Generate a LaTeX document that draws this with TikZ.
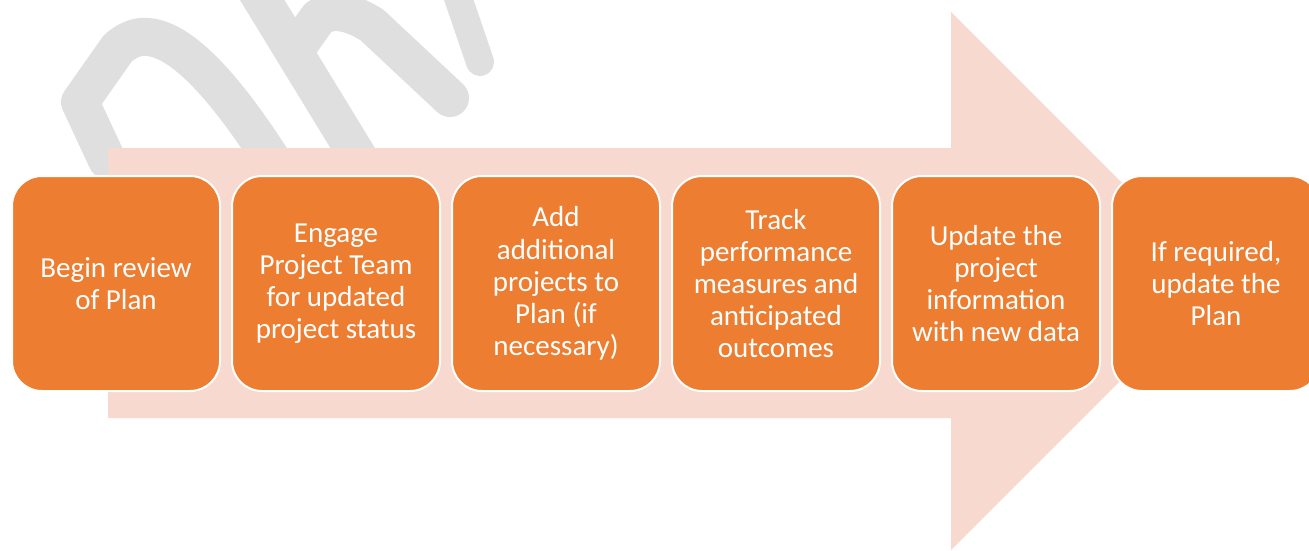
\documentclass[tikz,border=0pt]{standalone}
\usepackage{fontspec}
\setmainfont{Carlito}
\definecolor{stageorange}{HTML}{ED7D31}
\definecolor{arrowpink}{HTML}{F8D9CF}
\definecolor{wmgrey}{HTML}{DFDFDF}
\tikzset{
  stage/.style={draw=white,line width=2pt,fill=stageorange,rounded corners=30pt,
    minimum width=208pt,minimum height=215pt,inner sep=0pt,align=center,
    text=white,font=\fontsize{29}{32.2}\selectfont},
  wmstroke/.style={draw=wmgrey,line width=38pt,line join=round,line cap=round},
}
\begin{document}
\begin{tikzpicture}[x=1pt,y=-1pt]
\useasboundingbox (0,0) rectangle (1309,550);
% watermark behind the arrow
\begin{scope}
\clip (0,0) rectangle (1309,550);
\draw[wmstroke] (107,160) -- (80,102) -- (118,48) .. controls (130,38) and (140,36) .. (148,37)
  .. controls (185,40) and (230,95) .. (272,160);
\draw[wmstroke,line cap=butt] (250,-20) -- (360,160);
\draw[wmstroke] (298,46) -- (318,18) .. controls (328,10) and (345,8) .. (372,25) -- (450,98);
\draw[wmstroke,line width=28pt] (452,-20) -- (480,62);
\end{scope}
% big arrow
\fill[arrowpink] (108,148) -- (951,148) -- (951,12) -- (1220,281) -- (951,550)
  -- (951,418) -- (108,418) -- cycle;
% steps
\node[stage] (S1) at (116,283.5) {Begin review\\of Plan};
\node[stage] (S2) at (336,283.5) {Engage\\Project Team\\for updated\\project status};
\node[stage] (S3) at (556,283.5) {Add\\additional\\projects to\\Plan (if\\necessary)};
\node[stage] (S4) at (776,283.5) {Track\\performance\\measures and\\anticipated\\outcomes};
\node[stage] (S5) at (996,283.5) {Update the\\project\\information\\with new data};
\node[stage] (S6) at (1216,283.5) {If required,\\update the\\Plan};
\end{tikzpicture}
\end{document}
